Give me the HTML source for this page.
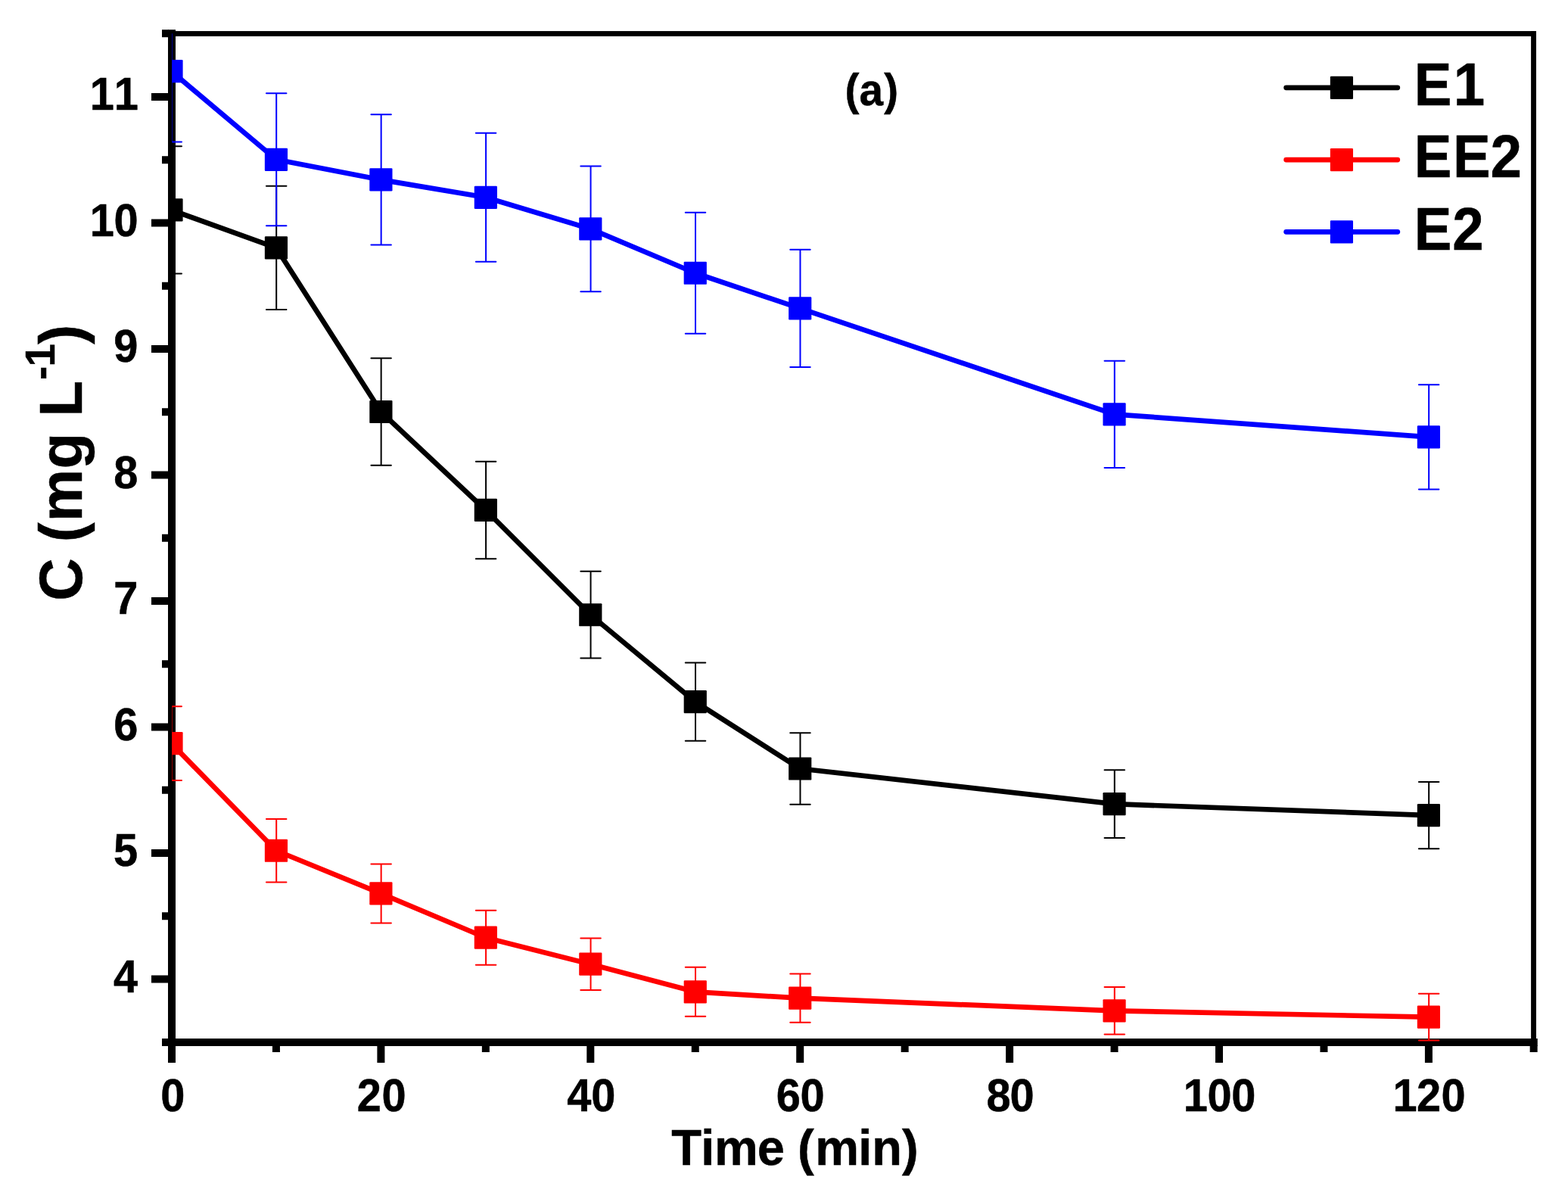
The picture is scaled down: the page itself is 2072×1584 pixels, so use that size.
<!DOCTYPE html>
<html lang="en"><head><meta charset="utf-8"><title>Concentration vs time (a)</title>
<style>
html,body{margin:0;padding:0;background:#fff;}
body{width:2072px;height:1584px;overflow:hidden;}
svg{display:block;}
text{font-family:'Liberation Sans', Arial, Helvetica, sans-serif;font-weight:bold;fill:#000;stroke:#000;stroke-width:0.5px;font-kerning:none;}
</style></head><body>
<svg width="2072" height="1584" viewBox="0 0 2072 1584">
<rect width="2072" height="1584" fill="#fff"/>
<defs><clipPath id="plot"><rect x="227.25" y="44.2" width="1819.35" height="1337.8"/></clipPath></defs>
<g fill="#000">
<rect x="227" y="41.05" width="1803" height="6.9"/>
<rect x="2023.1" y="41.05" width="6.9" height="1336.25"/>
<rect x="222" y="39.2" width="10" height="1342.8"/>
<rect x="222" y="1372" width="1809.75" height="10"/>
<rect x="214" y="1372" width="9" height="10"/>
<rect x="200" y="1288.5" width="23" height="10"/>
<rect x="214" y="1205.25" width="9" height="10"/>
<rect x="200" y="1122" width="23" height="10"/>
<rect x="214" y="1038.75" width="9" height="10"/>
<rect x="200" y="955.5" width="23" height="10"/>
<rect x="214" y="872.25" width="9" height="10"/>
<rect x="200" y="789" width="23" height="10"/>
<rect x="214" y="705.75" width="9" height="10"/>
<rect x="200" y="622.5" width="23" height="10"/>
<rect x="214" y="539.25" width="9" height="10"/>
<rect x="200" y="456" width="23" height="10"/>
<rect x="214" y="372.75" width="9" height="10"/>
<rect x="200" y="289.5" width="23" height="10"/>
<rect x="214" y="206.25" width="9" height="10"/>
<rect x="200" y="123" width="23" height="10"/>
<rect x="214" y="39.2" width="9" height="10"/>
<rect x="222" y="1381" width="10" height="23"/>
<rect x="359.95" y="1381" width="10" height="9"/>
<rect x="498.4" y="1381" width="10" height="23"/>
<rect x="636.85" y="1381" width="10" height="9"/>
<rect x="775.3" y="1381" width="10" height="23"/>
<rect x="913.75" y="1381" width="10" height="9"/>
<rect x="1052.2" y="1381" width="10" height="23"/>
<rect x="1190.65" y="1381" width="10" height="9"/>
<rect x="1329.1" y="1381" width="10" height="23"/>
<rect x="1467.55" y="1381" width="10" height="9"/>
<rect x="1606" y="1381" width="10" height="23"/>
<rect x="1744.45" y="1381" width="10" height="9"/>
<rect x="1882.9" y="1381" width="10" height="23"/>
<rect x="2021.65" y="1381" width="10" height="9"/>
</g>
<g clip-path="url(#plot)">
<g>
<polyline points="226.5,277.44 364.95,327.42 503.4,544 641.85,673.95 780.3,812.23 918.75,927.18 1057.2,1015.48 1472.55,1062.13 1887.9,1077.12" fill="none" stroke="#000000" stroke-width="6.7" stroke-linejoin="round"/>
<g fill="#000000">
<rect x="211.4" y="262.34" width="30.2" height="30.2" rx="1.2"/>
<rect x="349.85" y="312.32" width="30.2" height="30.2" rx="1.2"/>
<rect x="488.3" y="528.9" width="30.2" height="30.2" rx="1.2"/>
<rect x="626.75" y="658.85" width="30.2" height="30.2" rx="1.2"/>
<rect x="765.2" y="797.13" width="30.2" height="30.2" rx="1.2"/>
<rect x="903.65" y="912.08" width="30.2" height="30.2" rx="1.2"/>
<rect x="1042.1" y="1000.38" width="30.2" height="30.2" rx="1.2"/>
<rect x="1457.45" y="1047.03" width="30.2" height="30.2" rx="1.2"/>
<rect x="1872.8" y="1062.02" width="30.2" height="30.2" rx="1.2"/>
</g>
<path d="M226.75 193.31V361.57M213.5 193.31H240M213.5 361.57H240M365.2 245.79V409.05M351.95 245.79H378.45M351.95 409.05H378.45M503.65 473.19V614.81M490.4 473.19H516.9M490.4 614.81H516.9M642.1 609.64V738.26M628.85 609.64H655.35M628.85 738.26H655.35M780.55 754.83V869.62M767.3 754.83H793.8M767.3 869.62H793.8M919 875.53V978.83M905.75 875.53H932.25M905.75 978.83H932.25M1057.45 968.25V1062.71M1044.2 968.25H1070.7M1044.2 1062.71H1070.7M1472.8 1017.23V1107.02M1459.55 1017.23H1486.05M1459.55 1107.02H1486.05M1888.15 1032.97V1121.27M1874.9 1032.97H1901.4M1874.9 1121.27H1901.4" fill="none" stroke="#000000" stroke-width="2" stroke-linecap="round"/>
</g>
<g>
<polyline points="226.5,982.16 364.95,1123.77 503.4,1180.41 641.85,1238.72 780.3,1273.71 918.75,1310.36 1057.2,1318.69 1472.55,1335.35 1887.9,1343.68" fill="none" stroke="#ff0000" stroke-width="6.7" stroke-linejoin="round"/>
<g fill="#ff0000">
<rect x="211.4" y="967.06" width="30.2" height="30.2" rx="1.2"/>
<rect x="349.85" y="1108.67" width="30.2" height="30.2" rx="1.2"/>
<rect x="488.3" y="1165.31" width="30.2" height="30.2" rx="1.2"/>
<rect x="626.75" y="1223.62" width="30.2" height="30.2" rx="1.2"/>
<rect x="765.2" y="1258.61" width="30.2" height="30.2" rx="1.2"/>
<rect x="903.65" y="1295.26" width="30.2" height="30.2" rx="1.2"/>
<rect x="1042.1" y="1303.59" width="30.2" height="30.2" rx="1.2"/>
<rect x="1457.45" y="1320.25" width="30.2" height="30.2" rx="1.2"/>
<rect x="1872.8" y="1328.58" width="30.2" height="30.2" rx="1.2"/>
</g>
<path d="M226.75 933.26V1031.06M213.5 933.26H240M213.5 1031.06H240M365.2 1081.95V1165.58M351.95 1081.95H378.45M351.95 1165.58H378.45M503.65 1141.43V1219.4M490.4 1141.43H516.9M490.4 1219.4H516.9M642.1 1202.65V1274.79M628.85 1202.65H655.35M628.85 1274.79H655.35M780.55 1239.39V1308.03M767.3 1239.39H793.8M767.3 1308.03H793.8M919 1277.87V1342.85M905.75 1277.87H932.25M905.75 1342.85H932.25M1057.45 1286.62V1350.76M1044.2 1286.62H1070.7M1044.2 1350.76H1070.7M1472.8 1304.11V1366.59M1459.55 1304.11H1486.05M1459.55 1366.59H1486.05M1888.15 1312.86V1374.5M1874.9 1312.86H1901.4M1874.9 1374.5H1901.4" fill="none" stroke="#ff0000" stroke-width="2" stroke-linecap="round"/>
</g>
<g>
<polyline points="226.5,94.18 364.95,210.8 503.4,237.46 641.85,260.78 780.3,302.43 918.75,360.74 1057.2,407.39 1472.55,547.33 1887.9,577.32" fill="none" stroke="#0000ff" stroke-width="6.7" stroke-linejoin="round"/>
<g fill="#0000ff">
<rect x="211.4" y="79.08" width="30.2" height="30.2" rx="1.2"/>
<rect x="349.85" y="195.7" width="30.2" height="30.2" rx="1.2"/>
<rect x="488.3" y="222.36" width="30.2" height="30.2" rx="1.2"/>
<rect x="626.75" y="245.68" width="30.2" height="30.2" rx="1.2"/>
<rect x="765.2" y="287.33" width="30.2" height="30.2" rx="1.2"/>
<rect x="903.65" y="345.64" width="30.2" height="30.2" rx="1.2"/>
<rect x="1042.1" y="392.29" width="30.2" height="30.2" rx="1.2"/>
<rect x="1457.45" y="532.23" width="30.2" height="30.2" rx="1.2"/>
<rect x="1872.8" y="562.22" width="30.2" height="30.2" rx="1.2"/>
</g>
<path d="M226.75 0.88V187.48M213.5 0.88H240M213.5 187.48H240M365.2 123.33V298.27M351.95 123.33H378.45M351.95 298.27H378.45M503.65 151.32V323.59M490.4 151.32H516.9M490.4 323.59H516.9M642.1 175.81V345.75M628.85 175.81H655.35M628.85 345.75H655.35M780.55 219.55V385.31M767.3 219.55H793.8M767.3 385.31H793.8M919 280.77V440.71M905.75 280.77H932.25M905.75 440.71H932.25M1057.45 329.75V485.02M1044.2 329.75H1070.7M1044.2 485.02H1070.7M1472.8 476.69V617.97M1459.55 476.69H1486.05M1459.55 617.97H1486.05M1888.15 508.18V646.46M1874.9 508.18H1901.4M1874.9 646.46H1901.4" fill="none" stroke="#0000ff" stroke-width="2" stroke-linecap="round"/>
</g>
</g>
<g>
<text font-size="60" transform="scale(0.962 1.026)" x="155.84" y="1277.78">4</text>
<text font-size="60" transform="scale(0.962 1.026)" x="156.04" y="1115.01">5</text>
<text font-size="60" transform="scale(0.962 1.026)" x="156.12" y="953.22">6</text>
<text font-size="60" transform="scale(0.962 1.026)" x="156.16" y="790.45">7</text>
<text font-size="60" transform="scale(0.962 1.026)" x="156.1" y="628.65">8</text>
<text font-size="60" transform="scale(0.962 1.026)" x="156.21" y="465.89">9</text>
<text font-size="60" transform="scale(0.962 1.026)" x="123.51 156.33" y="304.09">10</text>
<text font-size="60" transform="scale(0.962 1.026)" x="123.51 156.67" y="141.33">11</text>
<text font-size="60" transform="scale(0.962 1.026)" x="220.55" y="1430.8">0</text>
<text font-size="60" transform="scale(0.962 1.026)" x="490.44 524.42" y="1430.8">20</text>
<text font-size="60" transform="scale(0.962 1.026)" x="778.74 812.15" y="1430.8">40</text>
<text font-size="60" transform="scale(0.962 1.026)" x="1066.15 1099.29" y="1430.8">60</text>
<text font-size="60" transform="scale(0.962 1.026)" x="1354.91 1387.25" y="1430.8">80</text>
<text font-size="60" transform="scale(0.962 1.026)" x="1625.54 1658.42 1691.54" y="1430.8">100</text>
<text font-size="60" transform="scale(0.962 1.026)" x="1913.12 1945.95 1979.77" y="1430.8">120</text>
</g>
<text font-size="66" transform="scale(0.985 1)" x="900.64 940.36 958.5 1016.05 1052.76 1070.1 1093.63 1151.57 1169.85 1210.22" y="1539">Time (min)</text>
<text font-size="78" transform="translate(108.4 800) rotate(-90) scale(1 1.012)" x="6.25 62.58 83.81 110.67 180.49 228.13 249.53" y="0">C (mg L<tspan font-size="54.5" x="298.05 315.54" dy="-36">-1</tspan><tspan x="345.15" dy="36">)</tspan></text>
<text font-size="60" transform="scale(0.943 1)" x="1184.09 1204.07 1238.98" y="139">(a)</text>
<g>
<line x1="1699.6" y1="115.8" x2="1846.8" y2="115.8" stroke="#000000" stroke-width="6.7" stroke-linecap="round"/>
<rect x="1757.8" y="100.7" width="30.2" height="30.2" rx="1.2" fill="#000000"/>
<text font-size="78" transform="scale(0.954 1.027)" x="1958.92 2013.31" y="135.35">E1</text>
</g>
<g>
<line x1="1699.6" y1="211.1" x2="1846.8" y2="211.1" stroke="#ff0000" stroke-width="6.7" stroke-linecap="round"/>
<rect x="1757.8" y="196" width="30.2" height="30.2" rx="1.2" fill="#ff0000"/>
<text font-size="78" transform="scale(0.954 1.027)" x="1958.92 2012.65 2064.47" y="227.85">EE2</text>
</g>
<g>
<line x1="1699.6" y1="306.3" x2="1846.8" y2="306.3" stroke="#0000ff" stroke-width="6.7" stroke-linecap="round"/>
<rect x="1757.8" y="291.2" width="30.2" height="30.2" rx="1.2" fill="#0000ff"/>
<text font-size="78" transform="scale(0.954 1.027)" x="1958.92 2011.85" y="321.32">E2</text>
</g>
</svg>
</body></html>
